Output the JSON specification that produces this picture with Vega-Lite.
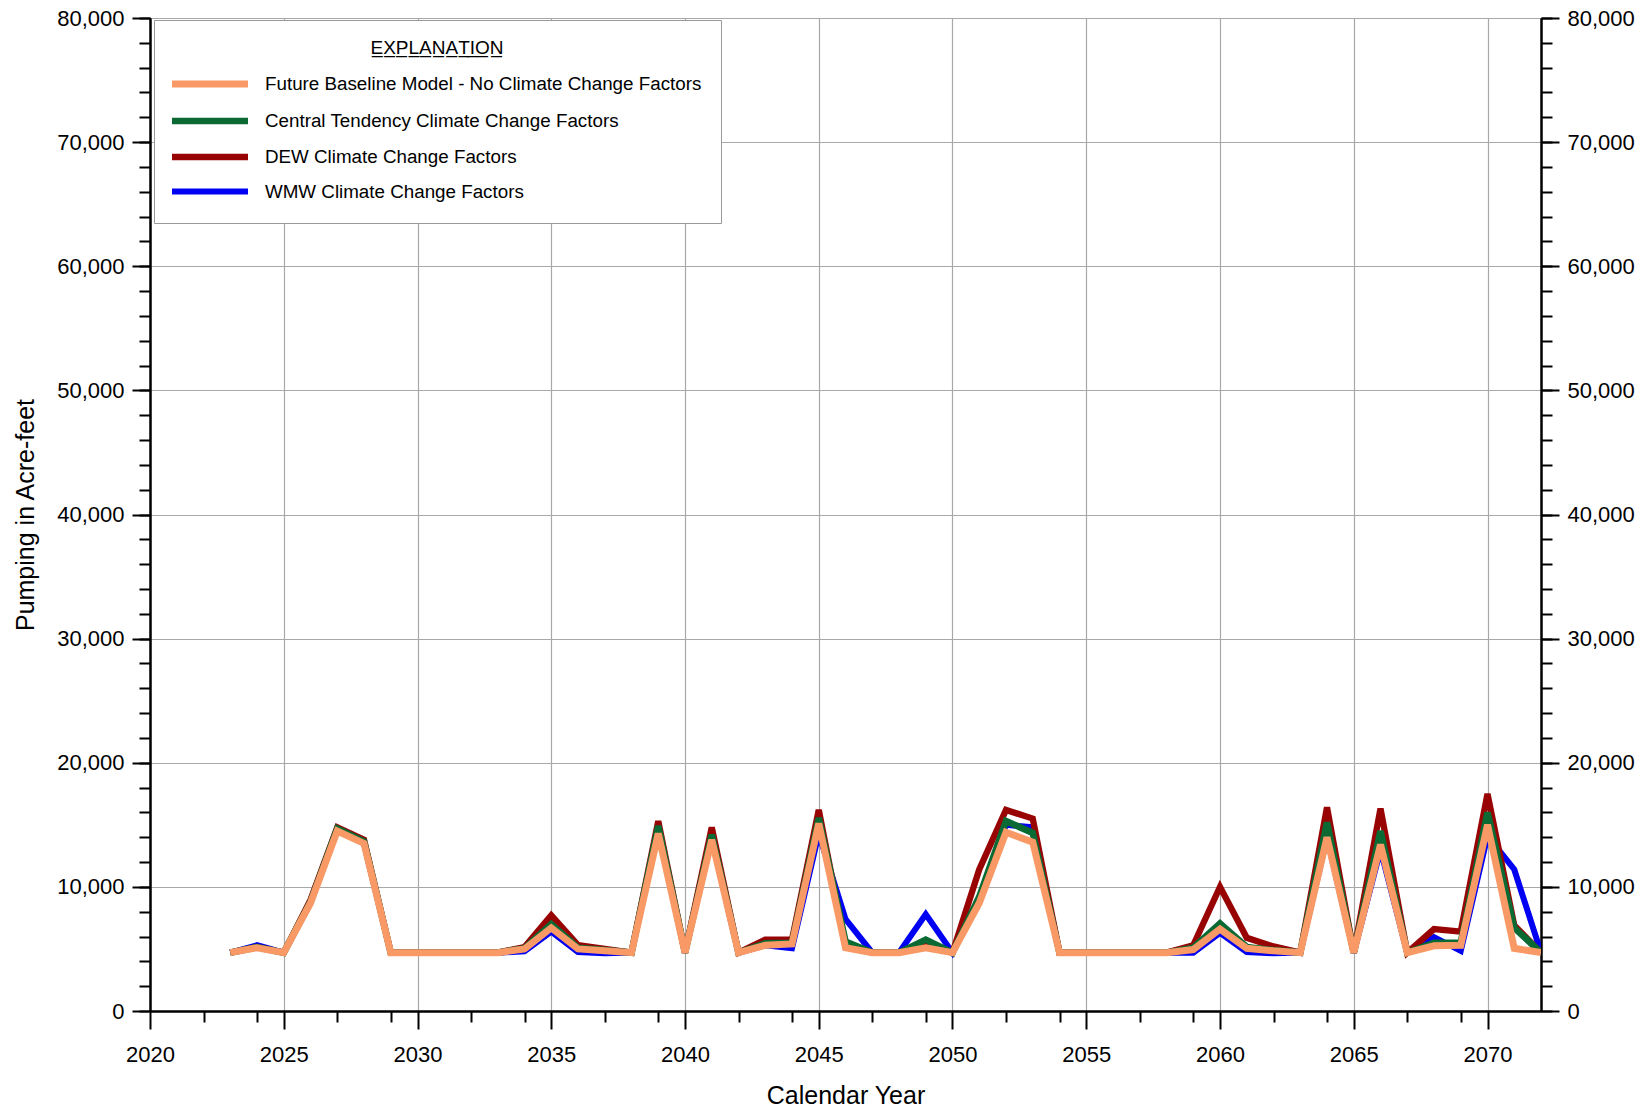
{
  "$schema": "https://vega.github.io/schema/vega-lite/v6.json",
  "width": 1391,
  "height": 993,
  "autosize": "none",
  "padding": {"left": 150, "top": 18, "right": 104, "bottom": 100},
  "background": "white",
  "config": {
    "font": "Liberation Sans",
    "view": {"stroke": null},
    "axis": {
      "labelFont": "Liberation Sans",
      "titleFont": "Liberation Sans",
      "labelColor": "#000",
      "titleColor": "#000",
      "tickColor": "#000",
      "domainColor": "#000",
      "domainWidth": 2,
      "tickWidth": 2,
      "labelFontSize": 22,
      "titleFontSize": 25,
      "titleFontWeight": "normal",
      "gridColor": "#a8a8a8",
      "gridWidth": 1.2,
      "labelFlush": false,
      "labelOverlap": false
    }
  },
  "data": {
    "values": [
      {"year": 2023, "WMW": 4700, "DEW": 4700, "CT": 4700, "FB": 4700},
      {"year": 2024, "WMW": 5300, "DEW": 5150, "CT": 5150, "FB": 5100},
      {"year": 2025, "WMW": 4700, "DEW": 4700, "CT": 4700, "FB": 4700},
      {"year": 2026, "WMW": 8700, "DEW": 8950, "CT": 8800, "FB": 8700},
      {"year": 2027, "WMW": 14600, "DEW": 14800, "CT": 14700, "FB": 14500},
      {"year": 2028, "WMW": 13500, "DEW": 13800, "CT": 13650, "FB": 13500},
      {"year": 2029, "WMW": 4700, "DEW": 4700, "CT": 4700, "FB": 4700},
      {"year": 2030, "WMW": 4700, "DEW": 4700, "CT": 4700, "FB": 4700},
      {"year": 2031, "WMW": 4700, "DEW": 4700, "CT": 4700, "FB": 4700},
      {"year": 2032, "WMW": 4700, "DEW": 4700, "CT": 4700, "FB": 4700},
      {"year": 2033, "WMW": 4700, "DEW": 4700, "CT": 4700, "FB": 4700},
      {"year": 2034, "WMW": 4800, "DEW": 5150, "CT": 5050, "FB": 5000},
      {"year": 2035, "WMW": 6400, "DEW": 7700, "CT": 7000, "FB": 6700},
      {"year": 2036, "WMW": 4750, "DEW": 5300, "CT": 5100, "FB": 5000},
      {"year": 2037, "WMW": 4650, "DEW": 5000, "CT": 4900, "FB": 4850},
      {"year": 2038, "WMW": 4700, "DEW": 4700, "CT": 4700, "FB": 4700},
      {"year": 2039, "WMW": 14500, "DEW": 15300, "CT": 14900, "FB": 14300},
      {"year": 2040, "WMW": 4700, "DEW": 4700, "CT": 4700, "FB": 4700},
      {"year": 2041, "WMW": 13900, "DEW": 14800, "CT": 14200, "FB": 13800},
      {"year": 2042, "WMW": 4700, "DEW": 4700, "CT": 4700, "FB": 4700},
      {"year": 2043, "WMW": 5300, "DEW": 5750, "CT": 5450, "FB": 5300},
      {"year": 2044, "WMW": 5050, "DEW": 5750, "CT": 5500, "FB": 5400},
      {"year": 2045, "WMW": 14300, "DEW": 16200, "CT": 15550, "FB": 15100},
      {"year": 2046, "WMW": 7400, "DEW": 5200, "CT": 5600, "FB": 5100},
      {"year": 2047, "WMW": 4700, "DEW": 4700, "CT": 4700, "FB": 4700},
      {"year": 2048, "WMW": 4700, "DEW": 4700, "CT": 4700, "FB": 4700},
      {"year": 2049, "WMW": 7800, "DEW": 5500, "CT": 5750, "FB": 5100},
      {"year": 2050, "WMW": 4700, "DEW": 4700, "CT": 4700, "FB": 4700},
      {"year": 2051, "WMW": 9000, "DEW": 11400, "CT": 9200, "FB": 8700},
      {"year": 2052, "WMW": 15000, "DEW": 16200, "CT": 15300, "FB": 14400},
      {"year": 2053, "WMW": 14800, "DEW": 15500, "CT": 14350, "FB": 13600},
      {"year": 2054, "WMW": 4700, "DEW": 4700, "CT": 4700, "FB": 4700},
      {"year": 2055, "WMW": 4700, "DEW": 4700, "CT": 4700, "FB": 4700},
      {"year": 2056, "WMW": 4700, "DEW": 4700, "CT": 4700, "FB": 4700},
      {"year": 2057, "WMW": 4700, "DEW": 4700, "CT": 4700, "FB": 4700},
      {"year": 2058, "WMW": 4700, "DEW": 4700, "CT": 4700, "FB": 4700},
      {"year": 2059, "WMW": 4700, "DEW": 5300, "CT": 5100, "FB": 4950},
      {"year": 2060, "WMW": 6300, "DEW": 10000, "CT": 7050, "FB": 6600},
      {"year": 2061, "WMW": 4750, "DEW": 5900, "CT": 5150, "FB": 5050},
      {"year": 2062, "WMW": 4650, "DEW": 5200, "CT": 4900, "FB": 4850},
      {"year": 2063, "WMW": 4700, "DEW": 4700, "CT": 4700, "FB": 4700},
      {"year": 2064, "WMW": 14000, "DEW": 16400, "CT": 15200, "FB": 14000},
      {"year": 2065, "WMW": 4700, "DEW": 4700, "CT": 4700, "FB": 4700},
      {"year": 2066, "WMW": 13000, "DEW": 16300, "CT": 14500, "FB": 13400},
      {"year": 2067, "WMW": 4700, "DEW": 4700, "CT": 4700, "FB": 4700},
      {"year": 2068, "WMW": 5950, "DEW": 6600, "CT": 5500, "FB": 5250},
      {"year": 2069, "WMW": 4850, "DEW": 6400, "CT": 5500, "FB": 5300},
      {"year": 2070, "WMW": 14100, "DEW": 17500, "CT": 16000, "FB": 15000},
      {"year": 2071, "WMW": 11400, "DEW": 6900, "CT": 6700, "FB": 5050},
      {"year": 2072, "WMW": 4700, "DEW": 4700, "CT": 4700, "FB": 4700}
    ]
  },
  "transform": [
    {"fold": ["WMW", "DEW", "CT", "FB"], "as": ["series", "value"]}
  ],
  "layer": [
    {
      "mark": {"type": "line", "strokeJoin": "miter", "strokeCap": "butt", "clip": true},
      "encoding": {
        "x": {
          "field": "year",
          "type": "quantitative",
          "scale": {"domain": [2020, 2072], "nice": false, "zero": false},
          "axis": {
            "orient": "bottom",
            "values": [2020, 2025, 2030, 2035, 2040, 2045, 2050, 2055, 2060, 2065, 2070],
            "format": "d",
            "tickSize": 18,
            "labelPadding": 15,
            "grid": true,
            "title": "Calendar Year",
            "titleX": 695.5,
            "titleY": 92,
            "titleAlign": "center",
            "titleBaseline": "alphabetic"
          }
        },
        "y": {
          "field": "value",
          "type": "quantitative",
          "scale": {"domain": [0, 80000], "nice": false},
          "axis": {
            "orient": "left",
            "values": [0, 10000, 20000, 30000, 40000, 50000, 60000, 70000, 80000],
            "format": ",d",
            "tickSize": 18,
            "labelPadding": 8,
            "grid": true,
            "title": "Pumping in Acre-feet",
            "titleX": -117,
            "titleY": 496.5,
            "titleAngle": 270,
            "titleAlign": "center",
            "titleBaseline": "alphabetic"
          }
        },
        "color": {
          "field": "series",
          "type": "nominal",
          "scale": {
            "domain": ["FB", "CT", "DEW", "WMW"],
            "range": ["#F99A66", "#0B6A34", "#980404", "#0000F2"]
          },
          "legend": {
            "orient": "none",
            "legendX": 4,
            "legendY": 2,
            "direction": "vertical",
            "title": "E̲X̲P̲L̲A̲N̲A̲T̲I̲O̲N̲",
            "titleFont": "Liberation Sans",
            "titleFontSize": 19,
            "titleFontWeight": "normal",
            "titleColor": "#000",
            "titleAnchor": "middle",
            "titlePadding": 13,
            "titleLimit": 0,
            "labelFont": "Liberation Sans",
            "labelFontSize": 18.8,
            "labelColor": "#000",
            "labelLimit": 0,
            "labelExpr": "datum.value == 'FB' ? 'Future Baseline Model - No Climate Change Factors' : datum.value == 'CT' ? 'Central Tendency Climate Change Factors' : datum.value == 'DEW' ? 'DEW Climate Change Factors' : 'WMW Climate Change Factors'",
            "symbolType": "M-4,0H4",
            "symbolSize": 361,
            "symbolStrokeWidth": 5,
            "symbolOffset": 24,
            "labelOffset": 42,
            "rowPadding": 9,
            "padding": 19,
            "fillColor": "white",
            "strokeColor": "#9a9a9a",
            "cornerRadius": 0
          }
        },
        "strokeWidth": {
          "field": "series",
          "type": "ordinal",
          "scale": {"domain": ["FB", "CT", "DEW", "WMW"], "range": [7, 6, 6.5, 5.5]},
          "legend": null
        }
      }
    },
    {
      "mark": {"type": "point", "opacity": 0},
      "encoding": {
        "x": {
          "field": "year",
          "type": "quantitative",
          "scale": {"domain": [2020, 2072], "nice": false, "zero": false},
          "axis": {
            "orient": "bottom",
            "values": [2022, 2024, 2027, 2029, 2032, 2034, 2037, 2039, 2042, 2044, 2047, 2049, 2052, 2054, 2057, 2059, 2062, 2064, 2067, 2069],
            "tickSize": 11,
            "labels": false,
            "grid": false,
            "title": null
          }
        },
        "y": {
          "field": "value",
          "type": "quantitative",
          "scale": {"domain": [0, 80000], "nice": false},
          "axis": {
            "orient": "left",
            "values": [0, 2000, 4000, 6000, 8000, 10000, 12000, 14000, 16000, 18000, 20000, 22000, 24000, 26000, 28000, 30000, 32000, 34000, 36000, 38000, 40000, 42000, 44000, 46000, 48000, 50000, 52000, 54000, 56000, 58000, 60000, 62000, 64000, 66000, 68000, 70000, 72000, 74000, 76000, 78000, 80000],
            "tickSize": 11,
            "labels": false,
            "grid": false,
            "title": null
          }
        }
      }
    },
    {
      "mark": {"type": "point", "opacity": 0},
      "encoding": {
        "x": {
          "field": "year",
          "type": "quantitative",
          "scale": {"domain": [2020, 2072], "nice": false, "zero": false},
          "axis": null
        },
        "y": {
          "field": "value",
          "type": "quantitative",
          "scale": {"domain": [0, 80000], "nice": false},
          "axis": {
            "orient": "right",
            "values": [0, 10000, 20000, 30000, 40000, 50000, 60000, 70000, 80000],
            "format": ",d",
            "tickSize": 18,
            "labelPadding": 8,
            "grid": false,
            "title": null
          }
        }
      }
    },
    {
      "mark": {"type": "point", "opacity": 0},
      "encoding": {
        "x": {
          "field": "year",
          "type": "quantitative",
          "scale": {"domain": [2020, 2072], "nice": false, "zero": false},
          "axis": null
        },
        "y": {
          "field": "value",
          "type": "quantitative",
          "scale": {"domain": [0, 80000], "nice": false},
          "axis": {
            "orient": "right",
            "values": [0, 2000, 4000, 6000, 8000, 10000, 12000, 14000, 16000, 18000, 20000, 22000, 24000, 26000, 28000, 30000, 32000, 34000, 36000, 38000, 40000, 42000, 44000, 46000, 48000, 50000, 52000, 54000, 56000, 58000, 60000, 62000, 64000, 66000, 68000, 70000, 72000, 74000, 76000, 78000, 80000],
            "tickSize": 11,
            "labels": false,
            "grid": false,
            "title": null
          }
        }
      }
    }
  ],
  "resolve": {"axis": {"x": "independent", "y": "independent"}}
}
